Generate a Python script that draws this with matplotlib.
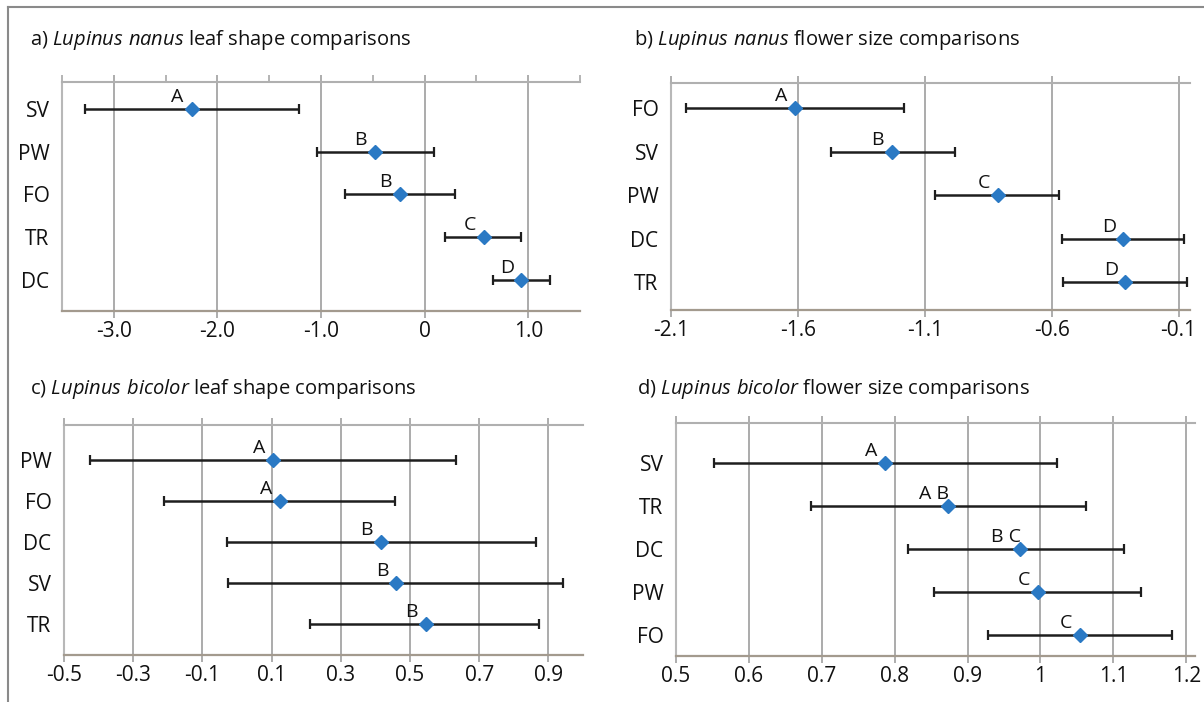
import matplotlib
matplotlib.use("Agg")
import matplotlib.pyplot as plt
from matplotlib.lines import Line2D

plt.rcParams['font.family'] = ['Open Sans', 'DejaVu Sans']
plt.rcParams['mathtext.fontset'] = 'custom'
plt.rcParams['mathtext.rm'] = 'Open Sans'
plt.rcParams['mathtext.it'] = 'Open Sans:italic'

# a) Lupinus nanus leaf shape
a_labels = ['SV', 'PW', 'FO', 'TR', 'DC']
a_mean = [-2.25, -0.48, -0.24, 0.57, 0.93]
a_low = [-3.28, -1.04, -0.77, 0.20, 0.66]
a_high = [-1.21, 0.09, 0.29, 0.93, 1.21]
a_group = ['A', 'B', 'B', 'C', 'D']
a_ticks = [-3.0, -2.0, -1.0, 0.0, 1.0]
a_ticklabels = ['-3.0', '-2.0', '-1.0', '0', '1.0']

# b) Lupinus nanus flower size
b_labels = ['FO', 'SV', 'PW', 'DC', 'TR']
b_mean = [-1.61, -1.23, -0.81, -0.32, -0.31]
b_low = [-2.04, -1.47, -1.06, -0.56, -0.555]
b_high = [-1.18, -0.98, -0.57, -0.08, -0.065]
b_group = ['A', 'B', 'C', 'D', 'D']
b_ticks = [-2.1, -1.6, -1.1, -0.6, -0.1]
b_ticklabels = ['-2.1', '-1.6', '-1.1', '-0.6', '-0.1']

# c) Lupinus bicolor leaf shape
c_labels = ['PW', 'FO', 'DC', 'SV', 'TR']
c_mean = [0.105, 0.125, 0.415, 0.46, 0.545]
c_low = [-0.425, -0.21, -0.03, -0.027, 0.21]
c_high = [0.633, 0.458, 0.865, 0.942, 0.874]
c_group = ['A', 'A', 'B', 'B', 'B']
c_ticks = [-0.5, -0.3, -0.1, 0.1, 0.3, 0.5, 0.7, 0.9]
c_ticklabels = ['-0.5', '-0.3', '-0.1', '0.1', '0.3', '0.5', '0.7', '0.9']

# d) Lupinus bicolor flower size
d_labels = ['SV', 'TR', 'DC', 'PW', 'FO']
d_mean = [0.787, 0.873, 0.972, 0.996, 1.054]
d_low = [0.552, 0.685, 0.818, 0.854, 0.928]
d_high = [1.023, 1.063, 1.115, 1.138, 1.180]
d_group = ['A', 'A B', 'B C', 'C', 'C']
d_ticks = [0.5, 0.6, 0.7, 0.8, 0.9, 1.0, 1.1, 1.2]
d_ticklabels = ['0.5', '0.6', '0.7', '0.8', '0.9', '1', '1.1', '1.2']

titles = [r'a) $\mathit{Lupinus\ nanus}$ leaf shape comparisons',
          r'b) $\mathit{Lupinus\ nanus}$ flower size comparisons',
          r'c) $\mathit{Lupinus\ bicolor}$ leaf shape comparisons',
          r'd) $\mathit{Lupinus\ bicolor}$ flower size comparisons']

W, H = 1204, 702
fig = plt.figure(figsize=(W / 100, H / 100), dpi=100)
txt = '#111111'


def px_axes(l, t, r, b):
    return fig.add_axes([l / W, 1 - b / H, (r - l) / W, (b - t) / H])


panels = [
    (px_axes(62, 82, 580, 311), a_labels, a_mean, a_low, a_high, a_group,
     a_ticks, a_ticklabels, (-3.5, 1.5), (4.73, -0.63), (30, 40)),
    (px_axes(671, 83, 1190, 310), b_labels, b_mean, b_low, b_high, b_group,
     b_ticks, b_ticklabels, (-2.1, -0.055), (4.63, -0.57), (634, 40)),
    (px_axes(64, 425, 583, 655), c_labels, c_mean, c_low, c_high, c_group,
     c_ticks, c_ticklabels, (-0.5, 1.0), (4.76, -0.85), (30, 389)),
    (px_axes(676, 423, 1195, 656), d_labels, d_mean, d_low, d_high, d_group,
     d_ticks, d_ticklabels, (0.5, 1.212), (4.49, -0.93), (637, 389)),
]

for k, (ax, labels, mean, low, high, group, ticks, ticklabels, xlim, ylim, tpos) in enumerate(panels):
    ypos = list(range(len(labels)))
    xerr = [[m - lo for m, lo in zip(mean, low)], [hi - m for m, hi in zip(mean, high)]]
    ax.errorbar(mean, ypos, xerr=xerr, fmt='none', ecolor='#1e1e1e', elinewidth=1.8,
                capsize=3.5, capthick=1.6, zorder=3)
    ax.plot(mean, ypos, 'D', color='#2a79c4', markersize=7, zorder=4)
    for m, y, g in zip(mean, ypos, group):
        ax.annotate(g, (m, y), xytext=(-14, 3), textcoords='offset pixels',
                    ha='center', va='bottom', fontsize=14, color=txt)

    ax.set_xlim(*xlim)
    ax.set_ylim(*ylim)
    ax.set_xticks(ticks)
    ax.set_xticklabels(ticklabels)
    ax.set_yticks(ypos)
    ax.set_yticklabels(labels)
    if k == 0:
        ax.set_xticks([-3.5 + 0.5 * i for i in range(11)], minor=True)
        ax.tick_params(axis='x', which='minor', bottom=False, top=True,
                       direction='out', length=5, color='#a8a8a8', width=1.2)
    ax.grid(axis='x', color='#959595', linewidth=1.1, zorder=1)
    ax.tick_params(axis='x', which='major', bottom=True, top=True, direction='out',
                   length=5, color='#a0a0a0', width=1.2, labelsize=15, pad=2,
                   labelcolor=txt)
    ax.tick_params(axis='y', length=0, labelsize=15, pad=9, labelcolor=txt)
    ax.spines['right'].set_visible(False)
    ax.spines['top'].set_color('#b0b0b0')
    ax.spines['top'].set_linewidth(1.5)
    ax.spines['left'].set_color('#b8b8b8')
    ax.spines['left'].set_linewidth(1.5)
    ax.spines['bottom'].set_color('#a39a8e')
    ax.spines['bottom'].set_linewidth(1.6)
    ax.set_axisbelow(True)

    fig.text(tpos[0] / W, 1 - tpos[1] / H, titles[k], fontsize=14.5, ha='left', va='center',
             color=txt)

# frame around the figure (left and top edges visible)
fig.add_artist(Line2D([8 / W, 8 / W], [0, 1 - 7 / H], color='#8a8a8a', lw=1.5))
fig.add_artist(Line2D([8 / W, 1], [1 - 7 / H, 1 - 7 / H], color='#8a8a8a', lw=1.5))

fig.savefig('out.png', dpi=100, facecolor='white')
